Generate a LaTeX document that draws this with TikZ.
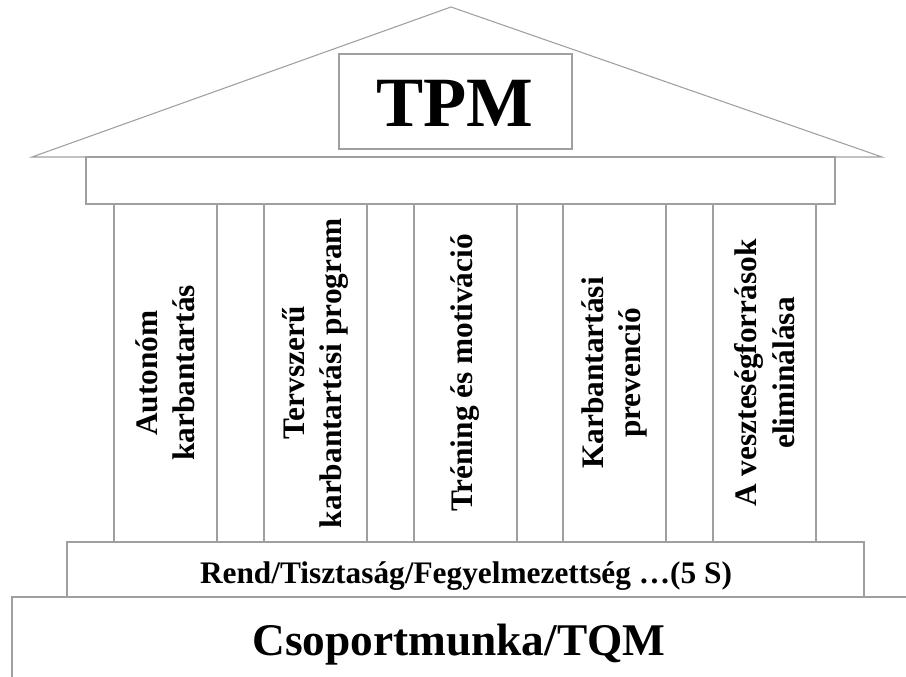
\documentclass[tikz,border=0pt]{standalone}
\usepackage{fontspec}
\setmainfont{Liberation Serif}
\usetikzlibrary{positioning}

\begin{document}
\begin{tikzpicture}[
    x=0.75pt, y=-0.75pt,
    part/.style={draw=gray!75, line width=0.8pt},
    pillar/.style={rotate=90, align=center, inner sep=0pt, font=\fontsize{23.5}{28}\selectfont\bfseries},
    base/.style={anchor=base, inner sep=0pt},
]
\useasboundingbox (0,0) rectangle (906,677);

% roof
\draw[part] (32,157) -- (451,7) -- (882,157) -- cycle;
\draw[part] (339,54) rectangle (572,149);
\node[base, font=\fontsize{53}{60}\selectfont\bfseries] (tpm) at (455,127) {TPM};

% beam
\draw[part] (86,157) rectangle (835,204);

% pillars
\foreach \x/\name/\txt in {114/auto/{Autonóm\\karbantartás},
    264/plan/{Tervszerű\\karbantartási program},
    414/train/{Tréning és motiváció},
    563/prev/{Karbantartási\\prevenció},
    713/loss/{A veszteségforrások\\eliminálása}} {
  \draw[part] (\x,204) rectangle ++(103,338);
  \node[pillar] (\name) at (\x+51.5,373) {\txt};
}

% steps
\draw[part] (67,542) rectangle (864,597);
\node[base, font=\fontsize{23.5}{28}\selectfont\bfseries] (fives) at (466,583) {Rend/Tisztaság/Fegyelmezettség …(5 S)};

\draw[part] (12,677) -- (12,597) -- (906,597);
\node[base, font=\fontsize{34}{40}\selectfont\bfseries] (team) at (459,655) {Csoportmunka/TQM};

\end{tikzpicture}
\end{document}
